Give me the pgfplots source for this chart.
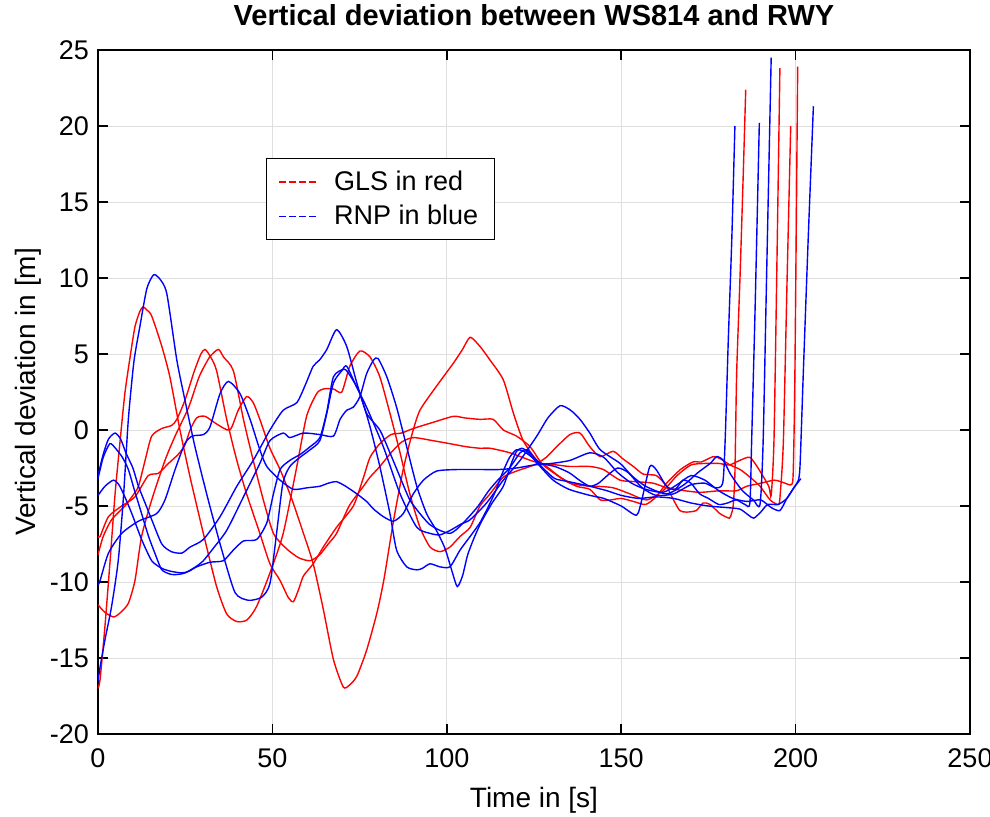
\documentclass[border=0pt]{standalone}
\usepackage{fontspec}
\setmainfont{Liberation Sans}
\usepackage{pgfplots}
\pgfplotsset{compat=1.18}
\pgfplotsset{
  gls/.style={red, line width=0.7pt, smooth, tension=0.4, forget plot},
  rnp/.style={blue, line width=0.7pt, smooth, tension=0.4, forget plot},
}
\begin{document}
\begin{tikzpicture}
\path[use as bounding box] (-49pt,-41pt) rectangle (446pt,367pt);
\begin{axis}[
  at={(0,0)}, anchor=south west,
  scale only axis, width=436pt, height=342pt,
  xmin=0, xmax=250, ymin=-20, ymax=25,
  xtick={0,50,...,250}, ytick={-20,-15,...,25},
  tick align=inside, major tick length=5pt,
  grid=major, grid style={color=gray!25, line width=0.5pt},
  axis line style={line width=0.75pt},
  every tick/.style={black, line width=0.75pt},
  tick label style={font=\fontsize{13.5}{16}\selectfont},
  /pgf/number format/assume math mode=true,
  xticklabel style={yshift=-4pt},
  yticklabel style={xshift=-1pt},
  label style={font=\fontsize{14}{17}\selectfont},
  xlabel={Time in [s]}, ylabel={Vertical deviation in [m]},
  xlabel style={at={(axis description cs:0.5,-0.0965)}, anchor=center},
  ylabel style={at={(axis description cs:-0.080,0.5)}, anchor=center},
  title={Vertical deviation between WS814 and RWY},
  title style={at={(axis description cs:0.5,1.034)}, anchor=center, font=\bfseries\fontsize{14.5}{17}\selectfont},
  legend style={at={(rel axis cs:0.193,0.842)}, anchor=north west, draw=black, line width=0.5pt, fill=white,
    font=\fontsize{13.5}{16}\selectfont, inner xsep=6pt, inner ysep=4pt, row sep=2pt},
  legend cell align=left,
  legend image code/.code={\draw[#1] (0pt,0pt) -- (19pt,0pt); \path (25pt,0pt);},
]
% ---------------- GLS (red) ----------------
\addplot[gls] coordinates {(0,-17.0)(0.6,-16.4)(2,-12.9)(3.5,-8.5)(4.9,-4.2)(6.3,-0.8)(7.7,2.4)(9.2,4.8)(10.6,6.8)(12,7.8)(12.9,8.1)(14,7.9)(15.4,7.5)(18.3,5.5)(20.6,3.5)(23.5,0)(26.4,-3.1)(30.2,-6.8)(34,-10.3)(36.9,-12.1)(39.8,-12.6)(42.7,-12.5)(45.5,-11.6)(49.3,-9.4)(53.1,-6.8)(57,-2.4)(59.8,0.9)(62.7,2.4)(64.6,2.7)(67.5,2.7)(69.9,2.5)(72.2,4.2)(75.1,5.2)(78,4.8)(80.8,3.5)(83.7,1.1)(86.6,-1.5)(89.4,-4.2)(92.3,-6.4)(95.2,-7.7)(98.1,-8.0)(100.9,-7.7)(103.8,-7.0)(106.7,-6.4)(109.5,-5.0)(112.4,-4.2)(116.2,-3.1)(120,-2.7)(125,-2.3)(128.5,-1.8)(131.5,-1.1)(135.3,-0.3)(138.2,-0.2)(141,-1.1)(144,-1.75)(147.7,-1.4)(150.5,-1.9)(153.5,-2.4)(156.3,-2.9)(160.1,-3.0)(163,-3.7)(165,-4.6)(166.8,-5.3)(168.7,-5.4)(171.5,-5.3)(173.5,-4.8)(175.5,-4.9)(178.3,-5.5)(181.0,-5.8)(181.6,-5.5)(182.1,-5.0)(182.6,-2.9)(183.1,3.7)(184.1,10.3)(185.0,16.9)(185.7,22.4)};
\addplot[gls] coordinates {(0,-7.0)(0.6,-7.0)(3,-5.7)(6.8,-5.0)(10.6,-4.4)(14.4,-3.0)(17.3,-2.85)(20.2,-2.2)(23,-1.6)(24.9,-1.0)(26.4,0)(28.3,0.8)(30.7,0.9)(34,0.4)(37.8,0)(40.2,1.3)(42.6,2.2)(44.5,1.8)(46.4,0.7)(49.3,-1.2)(52.2,-2.6)(55.5,-4.5)(58.9,-6.8)(61.7,-8.8)(64.6,-11.8)(67.5,-15.1)(70.3,-16.9)(72,-16.8)(74.2,-16.2)(77,-14.5)(80,-12.0)(82,-9.8)(84.7,-6.0)(87.5,-2.6)(90,-0.3)(92.3,1.3)(97.1,2.9)(101.9,4.4)(104.5,5.3)(106.7,6.1)(109.5,5.5)(112.4,4.6)(116.2,3.3)(119.1,1.1)(121.9,-0.7)(125.8,-2.0)(128.6,-2.4)(132.5,-3.1)(137.2,-3.7)(141,-3.9)(144,-4.6)(147,-4.6)(150,-4.5)(153.5,-4.7)(157,-4.9)(160,-4.4)(163,-3.5)(167,-2.6)(170.6,-2.1)(173,-2.1)(176.4,-1.75)(178.5,-1.9)(181.2,-2.3)(184.1,-2.6)(186.9,-3.1)(189.8,-3.7)(192.7,-4.6)(195.1,-4.9)(195.6,-4.2)(196.5,-0.7)(197.6,10.3)(198.6,20.0)};
\addplot[gls] coordinates {(0,-8.2)(1.5,-7.0)(3.9,-5.9)(7.7,-5.0)(10,-4.3)(11.6,-3.7)(13.5,-2.0)(15.4,-0.4)(18.3,0.1)(21.1,0.3)(22.6,0.7)(25,2.0)(27.5,3.8)(29.5,5.0)(30.7,5.3)(32.3,4.8)(34,3.9)(36.9,0.7)(39.8,-2.0)(42.6,-4.2)(46.4,-6.8)(49.3,-8.8)(52.2,-9.9)(54.5,-11.0)(56,-11.3)(57.5,-10.5)(58.9,-9.6)(61.7,-8.8)(64.6,-7.7)(68.4,-6.4)(73.2,-5.0)(76,-3.2)(78,-1.8)(80.8,-0.9)(84,-0.3)(87,-0.2)(90.4,0.1)(96,0.5)(101.9,0.9)(105,0.8)(109.5,0.7)(113.3,0.7)(116.2,0)(120,-0.4)(123.9,-1.1)(127.2,-2.2)(130.5,-2.8)(135.3,-3.5)(141,-3.7)(143,-3.7)(147.7,-3.8)(152.5,-4.2)(157.3,-4.6)(162,-4.0)(166,-3.0)(170,-2.3)(174,-2.2)(178,-2.2)(181,-2.3)(184,-2.0)(186.9,-1.8)(189.5,-2.6)(192.3,-3.7)(193.0,-4.3)(193.8,-0.7)(194.6,10.3)(195.5,23.8)};
\addplot[gls] coordinates {(0,-11.5)(2,-12.0)(4.5,-12.3)(6.5,-12.0)(8.7,-11.4)(10.6,-9.9)(12.5,-7.0)(15.4,-4.6)(19.2,-2.0)(22.1,-0.4)(26,1.5)(29,3.5)(32,4.8)(34.5,5.3)(36,4.8)(38.8,3.9)(41.7,0.7)(44.5,-2.0)(47.4,-4.6)(50.3,-6.8)(54,-7.8)(57.5,-8.4)(60.8,-8.6)(63.6,-8.2)(66,-7.5)(68.4,-6.8)(72,-5.0)(76.1,-3.7)(78,-3.1)(80.8,-2.4)(84,-1.5)(87,-0.8)(90.4,-0.5)(96,-0.7)(100.9,-0.9)(105.6,-1.1)(109.5,-1.2)(112.4,-1.2)(118.1,-1.5)(124,-2.0)(127.2,-2.2)(131.5,-2.3)(135.3,-2.4)(141,-2.4)(144.9,-2.6)(149.7,-3.3)(154.4,-3.4)(159.2,-3.5)(163,-3.8)(166.8,-3.95)(172.5,-4.1)(178,-4.0)(183,-4.0)(186,-3.7)(190,-3.5)(194,-3.3)(197,-3.5)(198.7,-3.6)(199.3,-2.9)(199.8,3.7)(200.6,23.9)};
% ---------------- RNP (blue) ----------------
\addplot[rnp] coordinates {(0,-16.5)(0.6,-15.6)(2,-13.8)(3.9,-11.6)(5.8,-8.6)(7.3,-4.4)(8.7,0.7)(10.3,4.5)(12,6.8)(14,9.3)(15.9,10.2)(17.5,10.0)(19.7,9.0)(22.6,4.6)(24.9,2.0)(27.8,-1.1)(31.6,-4.6)(35.5,-7.9)(39.3,-10.7)(43.1,-11.2)(46.9,-11.0)(49.3,-10.1)(51.2,-6.8)(53,-3.5)(55,-2.4)(57.9,-1.8)(60.8,-1.3)(63.6,-0.7)(65.6,1.1)(67.5,3.1)(69.9,3.9)(71.3,4.2)(74.2,2.8)(77,1.5)(81.8,-1.1)(86.6,-4.2)(91.4,-6.4)(95.2,-6.8)(98,-6.9)(101,-6.6)(104,-6.2)(106.7,-5.9)(111.4,-4.8)(116.2,-3.3)(121,-2.0)(125.8,-0.4)(129,0.8)(132.5,1.6)(135.5,1.3)(138.2,0.7)(141,-0.2)(144,-1.3)(149.7,-2.2)(153,-3.0)(157,-3.7)(163,-4.2)(168,-3.6)(172,-2.8)(175.5,-2.2)(177.4,-1.75)(179.3,-2.0)(181.2,-2.85)(183.1,-3.5)(185,-4.05)(187.9,-4.6)(189.8,-4.9)(190.7,-0.7)(191.7,10.3)(193.0,24.5)};
\addplot[rnp] coordinates {(0,-3.0)(1.5,-1.6)(3,-0.6)(4.9,-0.2)(6.5,-0.6)(8,-1.5)(10,-2.5)(11.6,-3.7)(13.5,-4.8)(15.4,-5.9)(18.3,-7.5)(21,-8.0)(24,-8.1)(26.4,-7.7)(30.2,-7.2)(35,-5.7)(39.8,-3.7)(44.5,-2.0)(49.3,0)(53.1,1.3)(57,1.8)(59.5,3.0)(61.7,4.2)(63.5,4.6)(65.6,5.3)(68.4,6.6)(71.3,5.5)(74.2,3.1)(77,1.1)(80.8,0)(83.7,-1.5)(86.6,-3.1)(89.4,-4.6)(92.3,-5.5)(95,-6.2)(98,-6.6)(100.9,-6.8)(103,-6.5)(106,-5.8)(109,-5.0)(112,-4.0)(115,-3.2)(118,-2.5)(121,-1.5)(123,-1.3)(125,-1.8)(127,-2.2)(131,-2.4)(135,-2.8)(138,-3.3)(141,-3.7)(143.5,-3.5)(146,-3.0)(149,-2.5)(152,-2.8)(156,-3.8)(160,-4.3)(165,-4.2)(170,-3.6)(174,-3.5)(177,-3.8)(179.1,-3.5)(179.8,-0.7)(180.7,5.9)(181.7,12.5)(182.6,20.0)};
\addplot[rnp] coordinates {(0,-3.2)(1.5,-1.8)(3.4,-0.9)(5,-1.2)(7,-1.8)(8.7,-2.6)(10.5,-4.0)(12.5,-5.5)(14.5,-7.0)(16.3,-8.1)(18.3,-9.2)(21,-9.5)(23,-9.5)(25,-9.4)(28,-9.0)(30.2,-8.6)(33,-7.8)(36.9,-6.6)(41.7,-4.4)(46.4,-2.2)(49.3,-0.7)(53.1,-0.2)(55,-0.5)(58.9,-0.2)(63.6,-0.3)(67.5,-0.4)(69.4,0.7)(71.3,1.3)(73.2,1.5)(75.1,2.2)(77,3.7)(79,4.6)(80.3,4.7)(82.8,3.5)(85.6,1.5)(88.5,-1.1)(91.4,-3.7)(94.2,-5.5)(97,-6.6)(99.5,-7.8)(101.5,-9.3)(103,-10.3)(104.5,-9.6)(106,-8.2)(108,-7.0)(110,-6.0)(113,-4.8)(116.2,-3.7)(118.5,-2.2)(120,-1.4)(121.5,-1.2)(123,-1.4)(126,-2.2)(130.5,-3.3)(135,-3.9)(141,-4.3)(145,-4.5)(150,-5.0)(154.4,-5.6)(156,-4.5)(158.2,-2.4)(160,-2.6)(163,-3.7)(165.5,-3.9)(167.7,-3.3)(170,-3.5)(172.5,-4.2)(175,-4.5)(178,-4.9)(180.5,-4.8)(183,-4.6)(185.5,-4.9)(186.9,-4.8)(187.4,-0.7)(188.4,8.1)(189.6,20.2)};
\addplot[rnp] coordinates {(0,-4.3)(2,-3.7)(4.4,-3.3)(6,-3.6)(7.7,-4.4)(9.7,-5.5)(12.5,-7.2)(15.4,-8.6)(18.3,-9.1)(21,-9.3)(24,-9.4)(26,-9.3)(28.3,-9.0)(32.1,-8.7)(35.9,-8.6)(38.8,-7.9)(41.7,-7.3)(45.5,-7.2)(48.4,-6.1)(50.3,-4.2)(52.2,-2.6)(55,-2.0)(58,-1.6)(60.8,-1.1)(63.6,-0.5)(65.6,1.2)(67.5,3.5)(70.6,4.0)(72.5,3.5)(75.1,2.4)(78,0.2)(80.8,-2.4)(83.7,-5.5)(85.6,-7.9)(88.5,-9.0)(91.4,-9.2)(93,-9.1)(95.2,-8.8)(98,-9.0)(100.9,-9.0)(103.8,-7.9)(106.7,-7.0)(109.5,-6.1)(112,-5.0)(114,-4.0)(116,-2.8)(118,-1.8)(120,-1.3)(122,-1.4)(125,-1.9)(128,-2.6)(131,-3.2)(135,-3.4)(141,-3.7)(146,-4.0)(150,-4.3)(155,-4.5)(160,-4.4)(165,-4.5)(170,-4.8)(175,-5.0)(180,-5.1)(184,-5.2)(186.5,-5.6)(188,-5.8)(190,-5.4)(192,-4.9)(195,-4.9)(197.5,-4.5)(199.5,-3.8)(200.8,-3.3)(201.3,-2.2)(202.2,3.7)(203.6,12.5)(205.1,21.3)};
\addplot[rnp] coordinates {(0,-10.2)(0.6,-9.9)(3,-8.1)(6.8,-6.8)(11.6,-6.0)(16.8,-5.5)(19.2,-4.6)(22.1,-2.6)(24.9,-0.9)(27,-0.4)(30.2,-0.3)(32.1,0.2)(35,2.4)(37.4,3.2)(40.7,2.4)(43.6,0.7)(46.4,-1.3)(48.4,-2.4)(52.2,-3.3)(56,-3.9)(60,-3.8)(63.6,-3.7)(66,-3.5)(68.4,-3.4)(71,-3.7)(74.2,-4.2)(77,-4.7)(79,-5.2)(81.8,-5.7)(84.7,-6.0)(87.5,-5.5)(90.4,-4.2)(93.3,-3.3)(97.1,-2.7)(103,-2.6)(109.5,-2.6)(115,-2.6)(120,-2.5)(125,-2.3)(130,-2.2)(135.3,-2.0)(141,-1.5)(145,-1.8)(149,-2.8)(153,-3.5)(157,-3.9)(162,-4.1)(166,-3.6)(170,-3.0)(174,-3.3)(178,-4.0)(182,-4.5)(186,-4.7)(190,-4.6)(193,-5.1)(195.5,-5.3)(197.5,-4.5)(199.5,-3.8)(200.5,-3.5)(201.5,-3.2)};
% ---------------- legend ----------------
\addlegendimage{red, line width=0.7pt, dash pattern=on 3.5pt off 1.5pt}
\addlegendentry{GLS in red}
\addlegendimage{blue, line width=0.7pt, dash pattern=on 3.5pt off 1.5pt}
\addlegendentry{RNP in blue}
\end{axis}
\end{tikzpicture}
\end{document}
